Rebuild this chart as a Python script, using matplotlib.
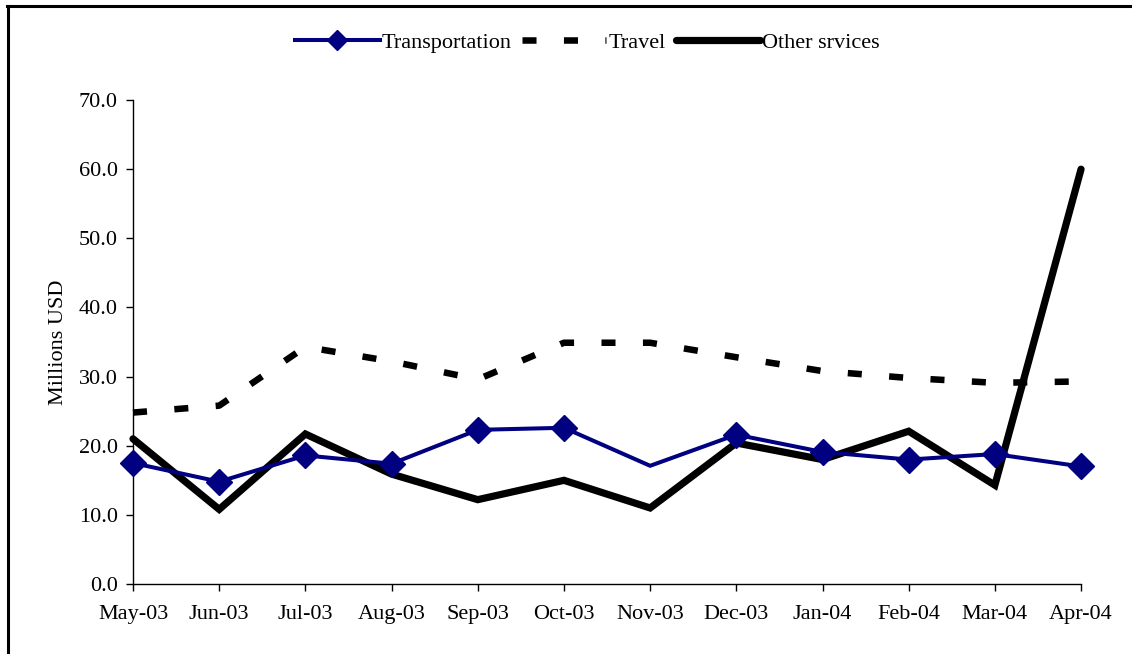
import matplotlib
matplotlib.use("Agg")
import matplotlib.pyplot as plt
from matplotlib.lines import Line2D

months = ["May-03", "Jun-03", "Jul-03", "Aug-03", "Sep-03", "Oct-03",
          "Nov-03", "Dec-03", "Jan-04", "Feb-04", "Mar-04", "Apr-04"]
transportation = [17.5, 14.8, 18.6, 17.4, 22.3, 22.6, 17.1, 21.6, 19.1, 18.0, 18.8, 17.0]
travel = [24.8, 25.8, 34.3, 32.2, 29.6, 34.9, 34.9, 32.8, 30.8, 29.8, 29.1, 29.3]
other_services = [21.0, 10.8, 21.7, 15.9, 12.2, 15.0, 11.0, 20.4, 18.0, 22.1, 14.3, 60.0]
y_ticks = [0, 10, 20, 30, 40, 50, 60, 70]

plt.rcParams["font.family"] = ["Liberation Serif", "DejaVu Serif"]
plt.rcParams["font.size"] = 16

fig = plt.figure(figsize=(11.32, 6.54), dpi=100)
ax = fig.add_axes([0.1175, 0.107, 0.8375, 0.740])

x = list(range(len(months)))
navy = "#000080"

ax.plot(x, transportation, color=navy, lw=2.9, marker="D", ms=13,
        markevery=[i for i in x if i != 6], clip_on=False, zorder=3,
        label="Transportation")
ax.plot(x, travel, color="black", lw=4.7, dashes=(2.15, 4.2),
        dash_capstyle="butt", clip_on=False, zorder=2, label="Travel")
ax.plot(x, other_services, color="black", lw=5.2, solid_capstyle="round",
        solid_joinstyle="miter", clip_on=False, zorder=2, label="Other srvices")

ax.set_xlim(0, len(months) - 1)
ax.set_ylim(0, 70)
ax.set_xticks(x)
ax.set_xticklabels(months)
ax.set_yticks(y_ticks)
ax.set_yticklabels([f"{v:.1f}" for v in y_ticks])
ax.tick_params(axis="both", direction="out", length=5, width=1, color="black",
               labelsize=16, pad=6)
ax.tick_params(axis="x", pad=10)
ax.spines["top"].set_visible(False)
ax.spines["right"].set_visible(False)
ax.spines["left"].set_linewidth(1)
ax.spines["bottom"].set_linewidth(1)
ax.set_ylabel("Millions USD", fontsize=16, labelpad=8)

leg = fig.legend(loc="center", bbox_to_anchor=(0.519, 0.935), ncol=3,
                 frameon=False, fontsize=16, handlelength=3.8,
                 handletextpad=0.1, columnspacing=0.45, markerscale=0.75)

# figure frame (top and left edges)
fig.add_artist(Line2D([0.007, 0.007], [0.0, 0.991], color="black", lw=2.2,
                      transform=fig.transFigure))
fig.add_artist(Line2D([0.006, 1.0], [0.991, 0.991], color="black", lw=2.2,
                      transform=fig.transFigure))

fig.savefig("out.png", dpi=100)
